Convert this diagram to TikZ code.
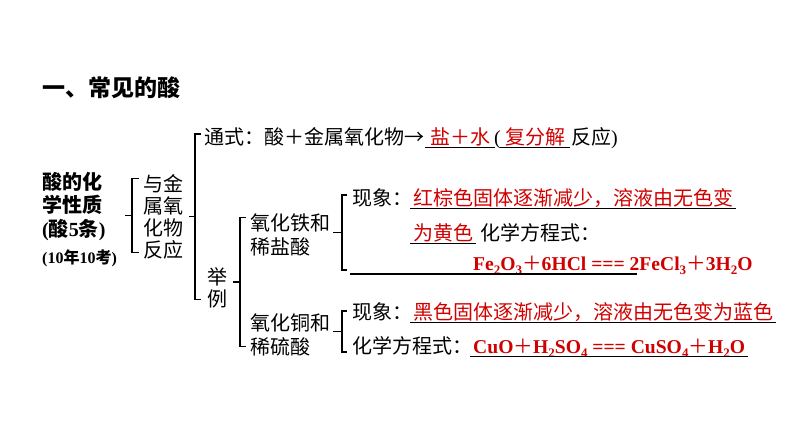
\documentclass[tikz,border=0pt]{standalone}
\usepackage{fontspec}
\setmainfont{Noto Sans CJK SC}
\newfontfamily\tnr{Liberation Serif}
\definecolor{hong}{RGB}{208,0,0}
\newcommand{\xb}[1]{\raisebox{-4pt}{\fontsize{13}{13}\selectfont #1}}
\newcommand{\jia}{{\rmfamily\mdseries ＋}}

\tikzset{
  zi/.style={font=\fontsize{20}{22}\selectfont, inner sep=0pt, anchor=west, align=left},
  hang/.style={zi, text height=17.6pt, text depth=2.4pt},
  da/.style={hang, text=hong, inner xsep=3pt},
  fc/.style={da, font=\fontsize{19.6}{22}\selectfont\tnr\bfseries},
  kh/.style={line width=1.1pt},
  xian/.style={line width=1.3pt}
}

\begin{document}
\begin{tikzpicture}[x=1pt,y=-1pt]
    \useasboundingbox (0,0) rectangle (794,447);
    % title
    \node[hang, font=\fontsize{23}{23}\selectfont\bfseries] (bt) at (42,89) {一、常见的酸};
    % left column
    \node[zi, font=\fontsize{20}{23.5}\selectfont\bfseries] (sx) at (42,206.5) {酸的化\\学性质\\{\tnr (}酸{\tnr 5}条{\tnr )}};
    \node[hang, font=\fontsize{16}{16}\selectfont\bfseries] (kao) at (42,256) {{\tnr (10}年{\tnr 10}考{\tnr )}};
    \node[zi] (yj) at (143,217) {与金\\属氧\\化物\\反应};
    % general formula
    \node[hang] (tz) at (204,137) {通式：酸＋金属氧化物→};
    \node[da, inner xsep=5pt] (yan) at (425,137) {盐＋水};
    \node[hang] (zk) at (494,137) {\tnr (};
    \node[da, inner xsep=5pt] (fj) at (500,137) {复分解};
    \node[hang] (fy) at (571,137) {反应\tnr )};
    % examples
    \node[zi] (ju) at (207,288) {举\\例};
    \node[zi, font=\fontsize{20}{24}\selectfont] (th) at (250,235) {氧化铁和\\稀盐酸};
    \node[zi, font=\fontsize{20}{24}\selectfont] (tl) at (250,335) {氧化铜和\\稀硫酸};
    % iron oxide
    \node[hang] (xx1) at (352,198) {现象：};
    \node[da] (hz) at (410,198) {红棕色固体逐渐减少，溶液由无色变};
    \node[da] (hs) at (410,233) {为黄色};
    \node[hang] (fc1) at (480,233) {化学方程式：};
    \coordinate (kb) at (350,274);
    \node[fc] (fe) at (470,263) {Fe\xb{2}O\xb{3}\jia 6HCl === 2FeCl\xb{3}\jia 3H\xb{2}O};
    % copper oxide
    \node[hang] (xx2) at (352,312) {现象：};
    \node[da] (hei) at (410,312) {黑色固体逐渐减少，溶液由无色变为蓝色};
    \node[hang] (fc2) at (352,346) {化学方程式：};
    \node[fc] (cu) at (470,346) {CuO\jia H\xb{2}SO\xb{4} === CuSO\xb{4}\jia H\xb{2}O};
    % underlines
    \foreach \n in {yan,fj,hz,hs,hei,cu}
        \draw[xian] (\n.south west) -- (\n.south east);
    \draw[xian] (kb) -- ++(287,0);
    % brackets
    \draw[kh] ([xshift=-4pt,yshift=-4pt]yj.north west) -| coordinate[pos=.75] (m1) ([xshift=-11pt,yshift=7pt]yj.south west) -- ([xshift=-4pt,yshift=7pt]yj.south west);
    \draw[kh] (m1) -- ++(-7,0);
    \draw[kh] ([xshift=-3pt,yshift=3pt]tz.west) -| coordinate[pos=.75] (m2) ([xshift=-12pt,yshift=9pt]ju.south west) -- ([xshift=-6pt,yshift=9pt]ju.south west);
    \draw[kh] (m2) -- ++(-6,0);
    \draw[kh] ([xshift=-4pt,yshift=-4pt]th.north west) -| coordinate[pos=.75] (m3) ([xshift=-10pt,yshift=10pt]tl.south west) -- ([xshift=-4pt,yshift=10pt]tl.south west);
    \draw[kh] (m3) -- ++(-7,0);
    \draw[kh] ([xshift=-5pt,yshift=3pt]xx1.west) -| coordinate[pos=.75] (m4) ([xshift=-8pt,yshift=4pt]kb) -- ([xshift=-3pt,yshift=4pt]kb);
    \draw[kh] (m4) -- ++(-9,0);
    \draw[kh] ([xshift=-5pt,yshift=1pt]xx2.west) -| coordinate[pos=.75] (m5) ([xshift=-10pt,yshift=-6pt]fc2.west) -- ([xshift=-5pt,yshift=-6pt]fc2.west);
    \draw[kh] (m5) -- ++(-9,0);
\end{tikzpicture}
\end{document}
